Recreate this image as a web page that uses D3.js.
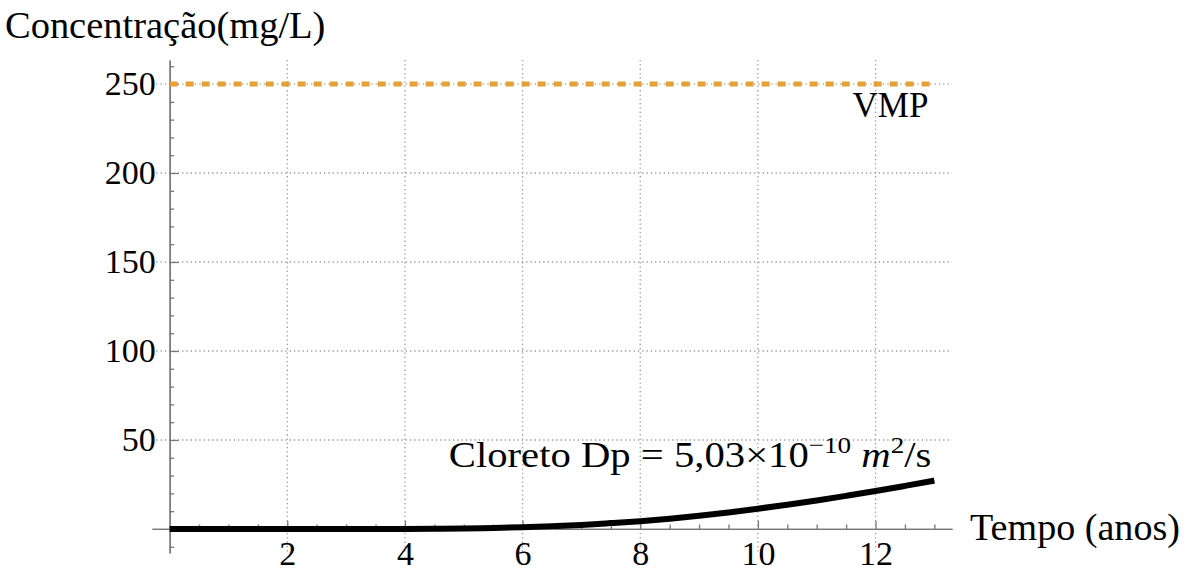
<!DOCTYPE html>
<html>
<head>
<meta charset="utf-8">
<script src="https://cdn.jsdelivr.net/npm/d3@7"></script>
<style>
  body { margin: 0; background: #fff; }
  svg { display: block; }
  text { font-family: "Liberation Serif", "Times New Roman", serif; fill: #000; }
</style>
</head>
<body>
<div class="vis"></div>
<script>
// data
var tempo = [0, 0.5, 1, 1.5, 2, 2.5, 3, 3.5, 4, 4.5, 5, 5.5, 6, 6.5, 7, 7.5, 8, 8.5, 9, 9.5, 10, 10.5, 11, 11.5, 12, 12.5, 13];
var cloreto = [0, 0, 0, 0, 0, 0, 0, 0, 0.05, 0.15, 0.3, 0.6, 1.0, 1.6, 2.3, 3.3, 4.4, 5.8, 7.4, 9.3, 11.4, 13.6, 16.0, 18.6, 21.3, 24.2, 27.2];
var vmp = 250;
var vmpRange = [0, 13];
var xTicks = [2, 4, 6, 8, 10, 12];
var yTicks = [50, 100, 150, 200, 250];

var width = 1189, height = 571;

var svg = d3.select(".vis").append("svg")
	.attr("width", width)
	.attr("height", height);

// plot range (with mathematica style padding)
var x = d3.scaleLinear().domain([-0.3, 13.3]).range([152, 952]);
var y = d3.scaleLinear().domain([-13.5, 263.5]).range([553, 60]);

var xMinor = d3.range(0.5, 13.01, 0.5).filter(function(d) { return xTicks.indexOf(d) < 0; });
var yMinor = d3.range(-10, 261, 10).filter(function(d) { return d !== 0 && yTicks.indexOf(d) < 0; });

// gridlines
var grid = svg.append("g")
	.attr("stroke", "#9a9a9a")
	.attr("stroke-width", 1.3)
	.attr("stroke-dasharray", "1.3,3");

grid.selectAll(".vgrid").data(xTicks).enter().append("line")
	.attr("x1", function(d) { return x(d); })
	.attr("x2", function(d) { return x(d); })
	.attr("y1", y.range()[1])
	.attr("y2", y.range()[0]);

grid.selectAll(".hgrid").data(yTicks).enter().append("line")
	.attr("x1", x.range()[0])
	.attr("x2", x.range()[1])
	.attr("y1", function(d) { return y(d); })
	.attr("y2", function(d) { return y(d); });

// axes
var axisColour = "#777";

svg.append("g")
	.attr("transform", "translate(0," + y(0) + ")")
	.call(d3.axisBottom(x).tickValues(xTicks).tickSize(-8).tickSizeOuter(0).tickPadding(12));

svg.append("g")
	.attr("transform", "translate(0," + y(0) + ")")
	.call(d3.axisBottom(x).tickValues(xMinor).tickSize(-4.5).tickSizeOuter(0).tickFormat(""));

svg.append("g")
	.attr("transform", "translate(" + x(0) + ",0)")
	.call(d3.axisLeft(y).tickValues(yTicks).tickSize(-9).tickSizeOuter(0).tickPadding(14));

svg.append("g")
	.attr("transform", "translate(" + x(0) + ",0)")
	.call(d3.axisLeft(y).tickValues(yMinor).tickSize(-4.5).tickSizeOuter(0).tickFormat(""));

svg.selectAll(".domain, .tick line")
	.attr("stroke", axisColour)
	.attr("stroke-width", 1.3);

svg.selectAll(".tick text")
	.style("font-family", "'Liberation Serif', 'Times New Roman', serif")
	.style("font-size", "34px")
	.attr("fill", "#000");

// VMP line
svg.append("line")
	.attr("x1", x(vmpRange[0]))
	.attr("x2", x(vmpRange[1]))
	.attr("y1", y(vmp))
	.attr("y2", y(vmp))
	.attr("stroke", "#e6a033")
	.attr("stroke-width", 5)
	.attr("stroke-dasharray", "8,8");

// cloreto curve
var line = d3.line()
	.x(function(d, i) { return x(tempo[i]); })
	.y(function(d) { return y(d); })
	.curve(d3.curveMonotoneX);

svg.append("path")
	.datum(cloreto)
	.attr("fill", "none")
	.attr("stroke", "#000")
	.attr("stroke-width", 6)
	.attr("d", line);

// labels
svg.append("text")
	.attr("transform", "translate(5,38) scale(1.04,1)")
	.style("font-size", "37px")
	.text("Concentração(mg/L)");

svg.append("text")
	.attr("transform", "translate(970,540) scale(1.03,1)")
	.style("font-size", "37px")
	.text("Tempo (anos)");

svg.append("text")
	.attr("x", x(12.9))
	.attr("y", y(vmp) + 33)
	.attr("text-anchor", "end")
	.style("font-size", "35px")
	.text("VMP");

var lab = svg.append("text")
	.attr("transform", "translate(" + x(12.95) + ",467) scale(1.13,1)")
	.attr("text-anchor", "end")
	.style("font-size", "36px");
lab.append("tspan").text("Cloreto Dp = 5,03×10");
lab.append("tspan").attr("dy", -14).style("font-size", "24px").text("−10");
lab.append("tspan").attr("dy", 14).text(" ");
lab.append("tspan").style("font-style", "italic").text("m");
lab.append("tspan").attr("dy", -14).style("font-size", "24px").text("2");
lab.append("tspan").attr("dy", 14).text("/s");
</script>
</body>
</html>
